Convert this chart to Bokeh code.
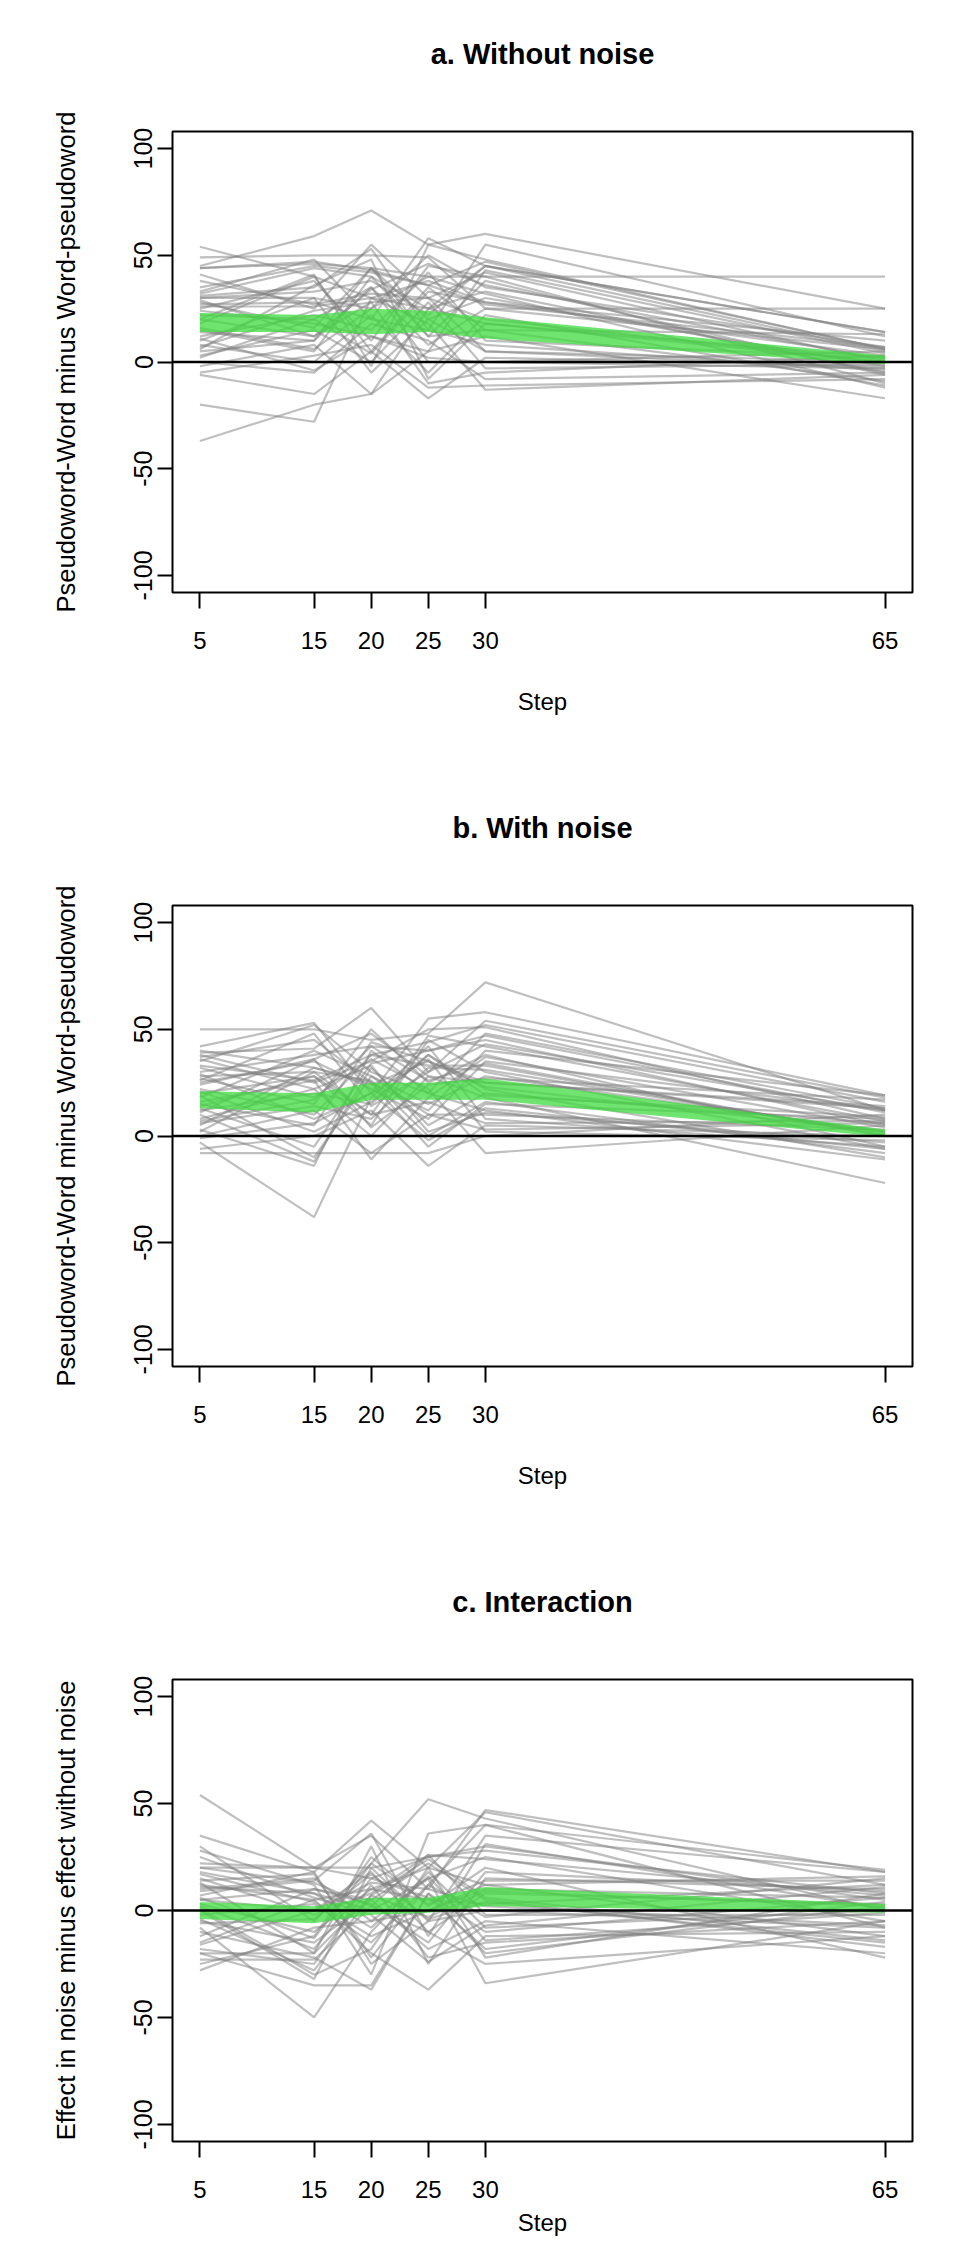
from bokeh.plotting import figure
from bokeh.models import Range1d, FixedTicker, Span, Title
from bokeh.layouts import column
from bokeh.embed import file_html
from bokeh.resources import INLINE

steps = [5, 15, 20, 25, 30, 65]
y_ticks = [-100, -50, 0, 50, 100]
y_tick_labels = ["-100", "-50", "0", "50", "100"]

titles = ["a. Without noise", "b. With noise", "c. Interaction"]
ylabels = ["Pseudoword-Word minus Word-pseudoword",
           "Pseudoword-Word minus Word-pseudoword",
           "Effect in noise minus effect without noise"]
xlabel = "Step"

# subject lines, values at steps 5,15,20,25,30,65
a_lines = [
    [54, 40, 30, 25, 45, 5], [44, 46, 44, 40, 40, 40], [45, 59, 71, 55, 60, 25],
    [44, 47, 43, 36, 47, 6], [41, 25, 55, 30, 42, 0], [33, 48, 20, 58, 45, 14],
    [32, 44, 40, 25, 33, -5], [31, 35, 53, 15, 55, 12], [30, 30, 25, 50, 35, 7],
    [28, 16, 44, 20, 30, -2], [26, 26, 30, 38, 28, 3], [25, 38, 10, 45, 40, -10],
    [22, 20, 35, 8, 25, 6], [20, 12, 28, 30, 20, 0], [18, 40, 5, 35, 15, 13],
    [15, 5, 40, 12, 38, -6], [12, 22, 15, 42, 10, 2], [10, 30, -5, 20, 5, -3],
    [8, 0, 22, -5, 22, -11], [5, 10, 35, 0, 0, 5], [3, 15, 0, 28, -3, -1],
    [0, -5, 18, 10, -8, -5], [-2, 8, -15, 5, 12, -17], [-5, 3, 8, -12, -11, -8],
    [-6, -15, 5, -17, 2, -2], [-20, -28, 30, 18, -13, -6], [-37, -20, -15, 25, 18, 0],
    [35, 45, 42, 36, 27, 7], [30, 33, 38, 22, 45, 14], [27, 28, 20, 15, 8, -4],
    [24, 18, 12, 5, 43, 4], [16, 6, 25, 40, 32, -12], [6, 36, 48, -8, 18, 2],
    [2, 20, 4, 33, 28, 10], [14, 10, 44, 12, 15, -9], [20, 41, -2, 55, 48, 6],
    [38, 27, 32, 30, 5, 0], [11, -4, 12, 2, 0, -3], [7, 24, 28, -10, -5, 3],
    [29, 12, 34, 46, 36, 1], [49, 50, 50, 49, 25, 25],
]
b_lines = [
    [50, 50, 45, 48, 72, 12], [42, 53, 20, 55, 58, 19], [39, 41, 60, 30, 54, 18],
    [38, 25, 35, 50, 51, 8], [35, 52, 30, 20, 48, 13], [30, 38, 42, 40, 45, 5],
    [28, 30, 10, 47, 42, 7], [27, 15, 50, 25, 38, -5], [25, 35, 22, 8, 35, 12],
    [22, 10, 38, 33, 33, 0], [20, 28, 5, 45, 30, -6], [18, 40, 28, 15, 28, 2],
    [15, 5, 44, 35, 25, 13], [12, 20, 15, 38, 22, -10], [10, -12, 32, 5, 20, 6],
    [8, 22, 0, 28, 18, -22], [5, 32, 25, -5, 15, 8], [3, -14, 40, 20, 12, -11],
    [0, 12, -8, 10, 10, 3], [-3, -38, 18, 42, 8, -5], [-6, 0, 12, -14, 5, 0],
    [-8, -8, -8, -8, 0, 10], [32, 18, 36, 22, -8, 5], [37, 45, 25, 12, 40, 19],
    [29, 8, 20, 36, 2, -2], [24, 36, 48, 28, 25, 14], [16, 26, -11, 18, 37, 4],
    [13, -5, 34, 40, 47, 11], [6, 14, 8, 32, 31, 1], [2, 30, 26, 0, 16, -8],
    [33, 26, 38, 44, 52, 16], [21, 2, 16, 38, 19, 9], [11, 36, 4, 24, 27, 17],
    [36, 22, 33, 2, 11, -3], [26, 48, 14, 30, 43, 12], [19, -10, 28, 10, 3, 6],
    [7, 17, 42, 26, 34, 0], [40, 32, 24, 35, 23, 2], [-1, 6, 20, -2, 13, -6],
    [14, 28, 10, 16, 6, 7],
]
c_lines = [
    [54, 20, 35, 10, 47, 18], [35, 18, 42, 20, 46, 12], [30, -5, 22, 52, 43, 0],
    [28, 12, -30, 36, 40, 19], [22, 20, 20, 25, 30, 5], [20, 20, 15, 25, 28, 8],
    [18, 8, 0, 15, 25, -5], [13, -20, 30, -25, 15, 10], [12, 5, 10, 20, 12, -12],
    [10, 15, -5, 0, 10, 6], [5, 0, 18, -10, 8, 3], [5, 10, 5, 22, 5, -17],
    [3, -10, 10, 5, 3, 12], [0, -32, 20, -5, 0, -8], [-2, 3, -15, 12, -3, 15],
    [-5, -15, 5, -18, -5, -20], [-8, -50, -10, 18, -8, 0], [-10, -22, -37, 8, -10, 6],
    [-15, 5, -20, -37, -12, -10], [-18, -25, 12, -22, -15, -5], [-20, -35, -35, 8, -20, 2],
    [-23, -23, 2, -10, -25, -12], [-25, -12, 25, 2, 20, -22], [-28, -8, -5, 15, -34, -5],
    [7, 18, -25, -5, 35, 18], [15, -2, 8, 26, -2, -2], [-12, 10, 3, -15, 18, 9],
    [2, -18, 15, 6, -18, 4], [17, 4, -12, 0, 12, 16], [9, 14, 36, -12, 31, 1],
    [-4, -28, 7, 24, 6, -14], [25, 6, -2, -24, -7, 11], [-16, 0, 13, 10, 2, -7],
    [6, -13, 22, 3, 14, 14], [11, 8, -8, 16, -14, -1], [20, 13, 2, 26, 24, 7],
    [-6, -4, 17, -4, 4, -15], [1, -30, -18, 20, -22, 8], [-20, -20, 7, -3, 9, 2],
    [14, 17, -22, 12, 40, -8],
]

# green credible band (lower / upper) at each step
a_lo = [14, 14, 13, 14, 11, -1]
a_hi = [23, 22, 25, 24, 21, 3]
b_lo = [13, 11, 17, 17, 17, -0.5]
b_hi = [21, 20, 25, 25, 27, 3]
c_lo = [-4, -6, -2, -1, 2, -1]
c_hi = [4, 2, 6, 6, 11, 3]

panels = [(a_lines, a_lo, a_hi), (b_lines, b_lo, b_hi), (c_lines, c_lo, c_hi)]
FONT = "Liberation Sans"

figs = []
for i, (lines, lo, hi) in enumerate(panels):
    last = (i == 2)
    h = 700 if last else 774
    p = figure(width=967, height=h, output_backend="svg", toolbar_location=None,
               x_range=Range1d(2.6, 67.4), y_range=Range1d(-108, 108),
               min_border_left=172, min_border_right=55, min_border_top=131,
               min_border_bottom=(h - 131 - 462) if last else 182)
    # spacer between frame and title, then the main title above it
    p.add_layout(Title(text=" ", text_font=FONT, text_font_size="29px", standoff=0), "above")
    p.add_layout(Title(text=titles[i], text_font=FONT, text_font_size="29px",
                       text_font_style="bold", text_color="black", align="center",
                       standoff=55), "above")
    p.grid.visible = False
    p.outline_line_color = "black"
    p.outline_line_width = 2
    p.outline_line_alpha = 1
    p.background_fill_color = "white"
    p.border_fill_color = "white"

    xs = [steps] * len(lines)
    p.multi_line(xs, lines, line_color="#808080", line_alpha=0.5, line_width=2.2)
    p.varea(x=steps, y1=lo, y2=hi, fill_color="#3fdc3f", fill_alpha=0.75)
    p.add_layout(Span(location=0, dimension="width", line_color="black", line_width=2.5))

    for ax in (p.xaxis[0], p.yaxis[0]):
        ax.axis_line_color = None
        ax.major_tick_line_color = "black"
        ax.major_tick_line_width = 2
        ax.major_tick_in = 0
        ax.minor_tick_line_color = None
        ax.major_label_text_font = FONT
        ax.major_label_text_color = "black"
        ax.axis_label_text_font = FONT
        ax.axis_label_text_font_style = "normal"
        ax.axis_label_text_color = "black"

    p.xaxis.ticker = FixedTicker(ticks=steps)
    p.xaxis.major_label_text_font_size = "24px"
    p.xaxis.axis_label_text_font_size = "24px"
    p.xaxis.major_tick_out = 16
    p.xaxis.major_label_standoff = 23
    p.xaxis.axis_label = xlabel
    p.xaxis.axis_label_standoff = 8 if last else 36

    p.yaxis.ticker = FixedTicker(ticks=y_ticks)
    p.yaxis.major_label_overrides = dict(zip(y_ticks, y_tick_labels))
    p.yaxis.major_label_text_font_size = "25px"
    p.yaxis.axis_label_text_font_size = "25.5px"
    p.yaxis.major_tick_out = 15
    p.yaxis.major_label_standoff = 5
    p.yaxis.major_label_orientation = "vertical"
    p.yaxis.axis_label = ylabels[i]
    p.yaxis.axis_label_standoff = 52
    figs.append(p)

layout = column(*figs, spacing=0)
open("out.html", "w").write(file_html(layout, INLINE))
